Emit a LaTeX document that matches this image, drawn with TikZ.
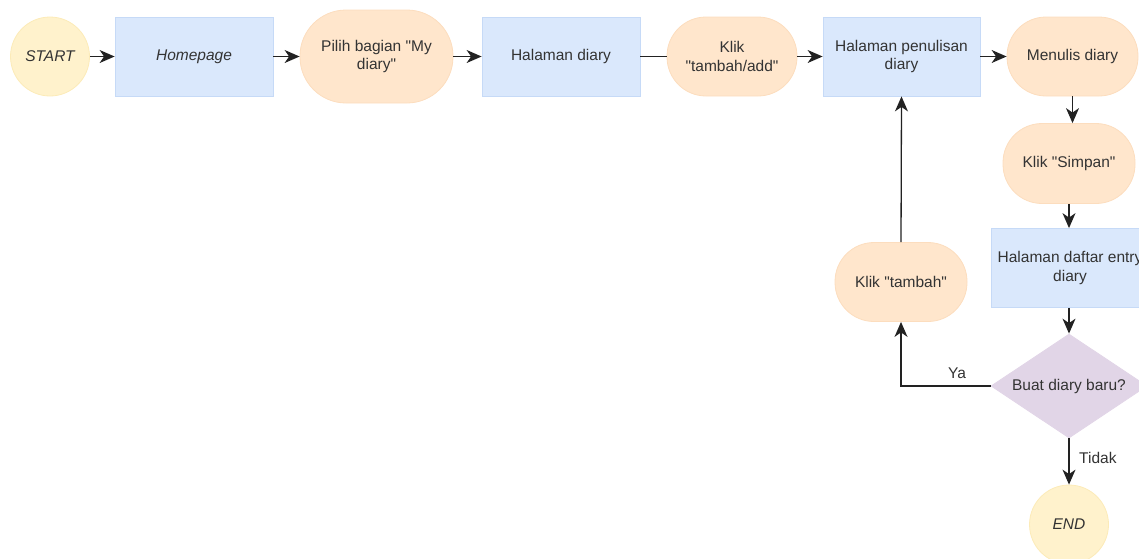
\documentclass[tikz,border=0pt]{standalone}
\usepackage{fontspec}
\setmainfont{Liberation Sans}
\usetikzlibrary{arrows.meta,shapes.geometric}
\definecolor{txt}{HTML}{333333}
\definecolor{yelf}{HTML}{FFF2CC}
\definecolor{yeld}{HTML}{FCEBB8}
\definecolor{bluf}{HTML}{DAE8FC}
\definecolor{blud}{HTML}{C6DAF7}
\definecolor{orf}{HTML}{FFE6CC}
\definecolor{ord}{HTML}{FCDDBE}
\definecolor{vif}{HTML}{E1D5E7}
\definecolor{lin}{HTML}{222222}
\tikzset{
  base/.style={font=\fontsize{15.5}{18.6}\selectfont, text=txt, align=center, inner sep=0pt, line width=0.8pt},
  term/.style={base, circle, fill=yelf, draw=yeld, minimum size=79pt, font=\fontsize{15.5}{18.6}\selectfont\itshape},
  page/.style={base, rectangle, fill=bluf, draw=blud, minimum height=79pt},
  act/.style={base, rectangle, fill=orf, draw=ord, rounded corners=39pt, minimum height=79pt},
  dec/.style={base, diamond, aspect=1.5, fill=vif, draw=vif, minimum width=156pt, minimum height=104pt},
  conn/.style={draw=lin, line width=1.3pt},
  arr/.style={conn, -{Stealth[length=15pt,width=13pt,inset=4.5pt]}},
  lbl/.style={font=\fontsize{15.5}{18.6}\selectfont, text=txt, inner sep=0pt}
}
\begin{document}
\begin{tikzpicture}[x=1pt,y=-1pt]
\useasboundingbox (0,0) rectangle (1139,558);
\node[term] (start) at (50,56.5) {START};
\node[page, minimum width=158pt, font=\fontsize{15.5}{18.6}\selectfont\itshape] (home) at (194,56.5) {Homepage};
\node[act, minimum width=153pt, minimum height=93pt, rounded corners=46pt] (pilih) at (376.5,56.5) {Pilih bagian \textquotedbl My\\diary\textquotedbl};
\node[page, minimum width=158pt] (hdiary) at (561,56.5) {Halaman diary};
\node[act, minimum width=130pt] (klikadd) at (732,56.5) {Klik\\\textquotedbl tambah/add\textquotedbl};
\node[page, minimum width=157pt] (hpenulis) at (901.5,56.5) {Halaman penulisan\\diary};
\node[act, minimum width=131pt] (menulis) at (1072.5,56.5) {Menulis diary};
\node[act, minimum width=132pt, minimum height=80pt] (simpan) at (1069,163.5) {Klik \textquotedbl Simpan\textquotedbl};
\node[page, minimum width=158pt] (hdaftar) at (1070,268) {Halaman daftar entry\\diary};
\node[act, minimum width=132pt] (tambah) at (901,282) {Klik \textquotedbl tambah\textquotedbl};
\node[dec] (buat) at (1069,386) {Buat diary baru?};
\node[term] (end) at (1069,524.5) {END};

\draw[arr] (start) -- (home);
\draw[arr] (home) -- (pilih);
\draw[arr] (pilih) -- (hdiary);
\draw[conn] (hdiary) -- (klikadd);
\draw[arr] (klikadd) -- (hpenulis);
\draw[arr] (hpenulis) -- (menulis);
\draw[arr] (menulis.south) -- (menulis.south |- simpan.north);
\draw[arr] (simpan) -- (simpan.south |- hdaftar.north);
\draw[arr] (hdaftar.south -| buat.north) -- (buat.north);
\draw[arr] (buat.west) -| (tambah.south);
\draw[arr] (tambah.north) -- (hpenulis.south);
\draw[arr] (buat.south) -- (end.north);
\node[lbl] (ya) at (957,373) {Ya};
\node[lbl, anchor=west] (tidak) at (1079,458) {Tidak};
\end{tikzpicture}
\end{document}
